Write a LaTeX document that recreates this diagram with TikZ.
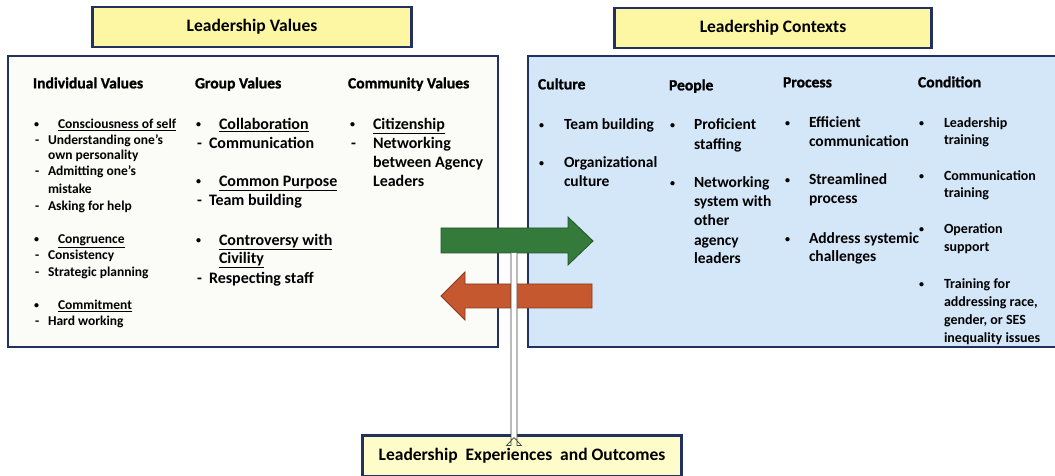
\documentclass[tikz,border=0pt]{standalone}
\usepackage{fontspec}
\setmainfont{Carlito}
\newfontfamily\heavyfont{Carlito}[BoldFeatures={FakeBold=1.2}]
\definecolor{navy}{HTML}{22315F}
\definecolor{titleyellow}{HTML}{FDF6A3}
\definecolor{outyellow}{HTML}{FEFCC8}
\definecolor{ctxblue}{HTML}{D4E7F9}
\definecolor{valwhite}{HTML}{FBFBF8}
\definecolor{arrgreen}{HTML}{347B3B}
\definecolor{arrgreenedge}{HTML}{22552A}
\definecolor{arrorange}{HTML}{C5582F}
\definecolor{arrorangeedge}{HTML}{8A3A1E}
\begin{document}
\begin{tikzpicture}[x=1bp,y=-1bp,
  every node/.style={inner sep=0pt,outer sep=0pt,anchor=mid west},
  titlebox/.style={draw=navy,line width=2.6bp,fill=titleyellow,anchor=center,
    font=\bfseries\fontsize{17.5bp}{21bp}\selectfont},
  bigbox/.style={draw=navy,line width=2bp,anchor=north west},
  hdr/.style={font=\heavyfont\bfseries\fontsize{15.6bp}{19bp}\selectfont},
  ind/.style={font=\bfseries\fontsize{13.5bp}{16bp}\selectfont},
  grp/.style={font=\bfseries\fontsize{16bp}{19bp}\selectfont},
  ctx/.style={font=\bfseries\fontsize{15.5bp}{19bp}\selectfont},
  cnd/.style={font=\bfseries\fontsize{14bp}{17bp}\selectfont},
  blt/.style={font=\bfseries\fontsize{10bp}{12bp}\selectfont},
]
\useasboundingbox (0,0) rectangle (1055,476);
\fill[white] (0,0) rectangle (1055,476);

% main panels
\node[bigbox,fill=valwhite,minimum width=492,minimum height=292] (valbox) at (8,56) {};
\node[bigbox,fill=ctxblue,minimum width=540,minimum height=292] (ctxbox) at (528,56) {};

% panel titles
\node[titlebox,minimum width=320,minimum height=40] (valtitle) at (252,27) {Leadership Values};
\node[titlebox,minimum width=318,minimum height=40] (ctxtitle) at (773,28) {Leadership Contexts};
\node[titlebox,fill=outyellow,minimum width=320,minimum height=41] (outtitle) at (522,456)
  {Leadership\ \ Experiences\ \ and Outcomes};

% ---- Leadership values: column headers
\node[hdr] (hind) at (33,86) {Individual Values};
\node[hdr] (hgrp) at (195,86) {Group Values};
\node[hdr] (hcom) at (348,86) {Community Values};

% individual values
\node[blt] (ib1) at (34,125) {\textbullet};
\node[ind] (i1) at (58,126) {\underline{Consciousness of self}};
\node[ind] (id1) at (35,142) {-};
\node[ind] (i2) at (48,142) {Understanding one’s};
\node[ind] (i3) at (48,157) {own personality};
\node[ind] (id2) at (35,173) {-};
\node[ind] (i4) at (48,173) {Admitting one’s};
\node[ind] (i5) at (48,191) {mistake};
\node[ind] (id3) at (35,208) {-};
\node[ind] (i6) at (48,208) {Asking for help};
\node[blt] (ib2) at (34,240) {\textbullet};
\node[ind] (i7) at (58,241) {\underline{Congruence}};
\node[ind] (id4) at (35,257) {-};
\node[ind] (i8) at (48,257) {Consistency};
\node[ind] (id5) at (35,274) {-};
\node[ind] (i9) at (48,274) {Strategic planning};
\node[blt] (ib3) at (34,306) {\textbullet};
\node[ind] (i10) at (58,307) {\underline{Commitment}};
\node[ind] (id6) at (35,323) {-};
\node[ind] (i11) at (48,323) {Hard working};

% group values
\node[blt] (gb1) at (196,125) {\textbullet};
\node[grp] (g1) at (219,127) {\underline{Collaboration}};
\node[grp] (gd1) at (197,146) {-};
\node[grp] (g2) at (209,146) {Communication};
\node[blt] (gb2) at (196,182) {\textbullet};
\node[grp] (g3) at (219,184) {\underline{Common Purpose}};
\node[grp] (gd2) at (197,203) {-};
\node[grp] (g4) at (209,203) {Team building};
\node[blt] (gb3) at (196,241) {\textbullet};
\node[grp] (g5) at (219,243) {\underline{Controversy with}};
\node[grp] (g6) at (219,261) {\underline{Civility}};
\node[grp] (gd3) at (197,281) {-};
\node[grp] (g7) at (209,281) {Respecting staff};

% community values
\node[blt] (cb1) at (350,125) {\textbullet};
\node[grp] (c1) at (373,127) {\underline{Citizenship}};
\node[grp] (cd1) at (351,146) {-};
\node[grp] (c2) at (373,146) {Networking};
\node[grp] (c3) at (373,165) {between Agency};
\node[grp] (c4) at (373,184) {Leaders};

% ---- Leadership contexts: column headers
\node[hdr] (hcul) at (538,87) {Culture};
\node[hdr] (hpeo) at (669,88) {People};
\node[hdr] (hpro) at (783,85) {Process};
\node[hdr] (hcon) at (918,85) {Condition};

% culture
\node[blt] (kb1) at (539,126) {\textbullet};
\node[ctx] (k1) at (564,127) {Team building};
\node[blt] (kb2) at (539,164) {\textbullet};
\node[ctx] (k2) at (564,165) {Organizational};
\node[ctx] (k3) at (564,184) {culture};

% people
\node[blt] (pb1) at (670,126) {\textbullet};
\node[ctx] (p1) at (694,127) {Proficient};
\node[ctx] (p2) at (694,147) {staffing};
\node[blt] (pb2) at (670,184) {\textbullet};
\node[ctx] (p3) at (694,185) {Networking};
\node[ctx] (p4) at (694,204) {system with};
\node[ctx] (p5) at (694,223) {other};
\node[ctx] (p6) at (694,243) {agency};
\node[ctx] (p7) at (694,261) {leaders};

% process
\node[blt] (rb1) at (785,124) {\textbullet};
\node[ctx] (r1) at (809,125) {Efficient};
\node[ctx] (r2) at (809,144) {communication};
\node[blt] (rb2) at (785,181) {\textbullet};
\node[ctx] (r3) at (809,182) {Streamlined};
\node[ctx] (r4) at (809,201) {process};
\node[blt] (rb3) at (785,240) {\textbullet};
\node[ctx] (r5) at (809,241) {Address systemic};
\node[ctx] (r6) at (809,259) {challenges};

% condition
\node[blt] (nb1) at (919,124) {\textbullet};
\node[cnd] (n1) at (944,125) {Leadership};
\node[cnd] (n2) at (944,142) {training};
\node[blt] (nb2) at (919,177) {\textbullet};
\node[cnd] (n3) at (944,178) {Communication};
\node[cnd] (n4) at (944,195) {training};
\node[blt] (nb3) at (919,230) {\textbullet};
\node[cnd] (n5) at (944,231) {Operation};
\node[cnd] (n6) at (944,249) {support};
\node[blt] (nb4) at (919,285) {\textbullet};
\node[cnd] (n7) at (944,286) {Training for};
\node[cnd] (n8) at (944,304) {addressing race,};
\node[cnd] (n9) at (944,322) {gender, or SES};
\node[cnd] (n10) at (944,340) {inequality issues};

% ---- block arrows between the panels
\filldraw[fill=arrorange,draw=arrorangeedge,line width=0.8bp,line join=miter]
  (592,284) -- (465,284) -- (465,272) -- (441,296) -- (465,320) -- (465,308) -- (592,308) -- cycle;
\filldraw[fill=arrgreen,draw=arrgreenedge,line width=0.8bp,line join=miter]
  (441,228) -- (568,228) -- (568,217) -- (593,241) -- (568,265) -- (568,253) -- (441,253) -- cycle;

% hollow connector from the arrows down to the outcomes box
\coordinate (vtop) at (514,253);
\coordinate (vtip) at (vtop |- outtitle.north);
\filldraw[fill=white,draw=black!75,line width=0.7bp,line join=miter]
  ([xshift=-3bp]vtop) -- ([xshift=-3bp,yshift=-10bp]vtip) -- ([xshift=-7.5bp,yshift=-10bp]vtip)
  -- ([yshift=-2bp]vtip) -- ([xshift=7.5bp,yshift=-10bp]vtip) -- ([xshift=3bp,yshift=-10bp]vtip)
  -- ([xshift=3bp]vtop);
\end{tikzpicture}
\end{document}
